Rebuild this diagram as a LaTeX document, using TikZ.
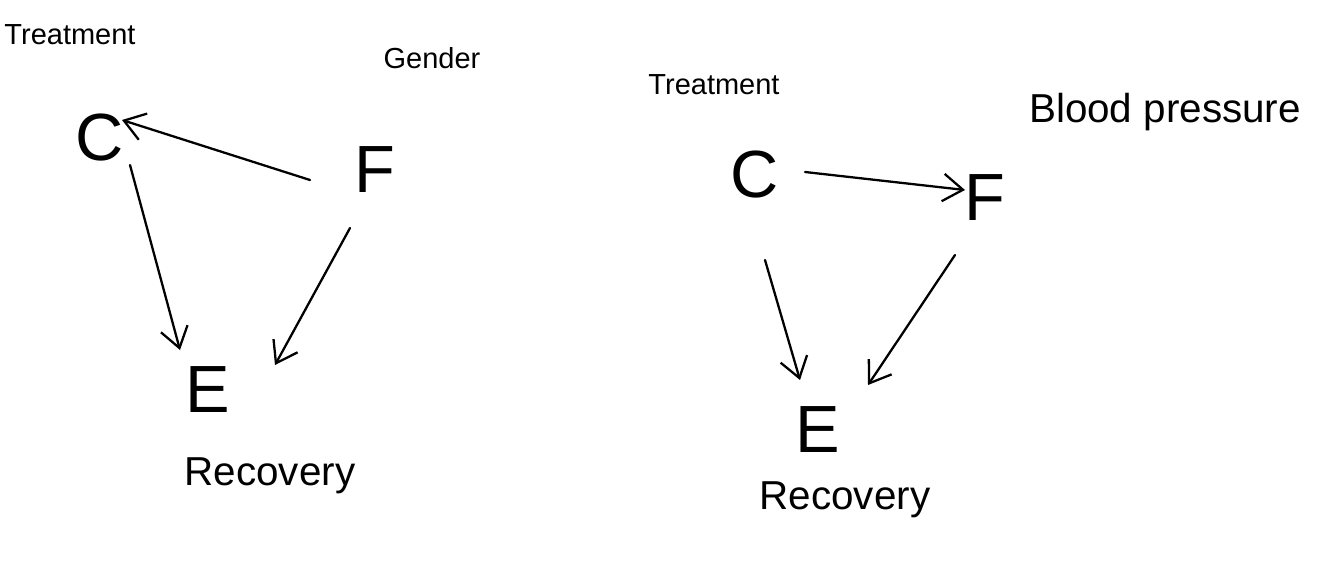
\documentclass[tikz,border=0pt]{standalone}
\usepackage{fontspec}
\setmainfont{Liberation Sans}
\usetikzlibrary{arrows.meta}
\tikzset{
  lbl/.style={inner sep=0pt, font=\fontsize{16.5}{20}\selectfont},
  big/.style={inner sep=0pt, font=\fontsize{23}{27}\selectfont},
  var/.style={inner sep=0pt, font=\fontsize{38}{44}\selectfont},
  arr/.style={line width=1.3pt, line cap=round, -{Straight Barb[length=4mm,width=5.5mm,line width=1.3pt]}}
}
\begin{document}
\begin{tikzpicture}[x=0.02cm,y=-0.02cm]
\useasboundingbox (0,0) rectangle (1338,561);
% left diagram
\node[lbl] (t1) at (70,35) {Treatment};
\node[lbl] (g1) at (432,58) {Gender};
\node[var] (c1) at (100,138) {C};
\node[var] (f1) at (375,170) {F};
\node[var] (e1) at (208,390) {E};
\node[big] (r1) at (270,476) {Recovery};
\draw[arr] ([shift={(-65,10)}]f1.center) -- ([shift={(22,-18)}]c1.center);
\draw[arr] ([shift={(30,27)}]c1.center) -- ([shift={(-28,-40)}]e1.center);
\draw[arr] ([shift={(-25,58)}]f1.center) -- ([shift={(67,-25)}]e1.center);
% right diagram
\node[lbl] (t2) at (714,85) {Treatment};
\node[big] (b2) at (1165,112) {Blood pressure};
\node[var] (c2) at (755,175) {C};
\node[var] (f2) at (985,198) {F};
\node[var] (e2) at (818,430) {E};
\node[big] (r2) at (845,500) {Recovery};
\draw[arr] ([shift={(50,-3)}]c2.center) -- ([shift={(-20,-8)}]f2.center);
\draw[arr] ([shift={(10,85)}]c2.center) -- ([shift={(-18,-50)}]e2.center);
\draw[arr] ([shift={(-30,57)}]f2.center) -- ([shift={(50,-45)}]e2.center);
\end{tikzpicture}
\end{document}
